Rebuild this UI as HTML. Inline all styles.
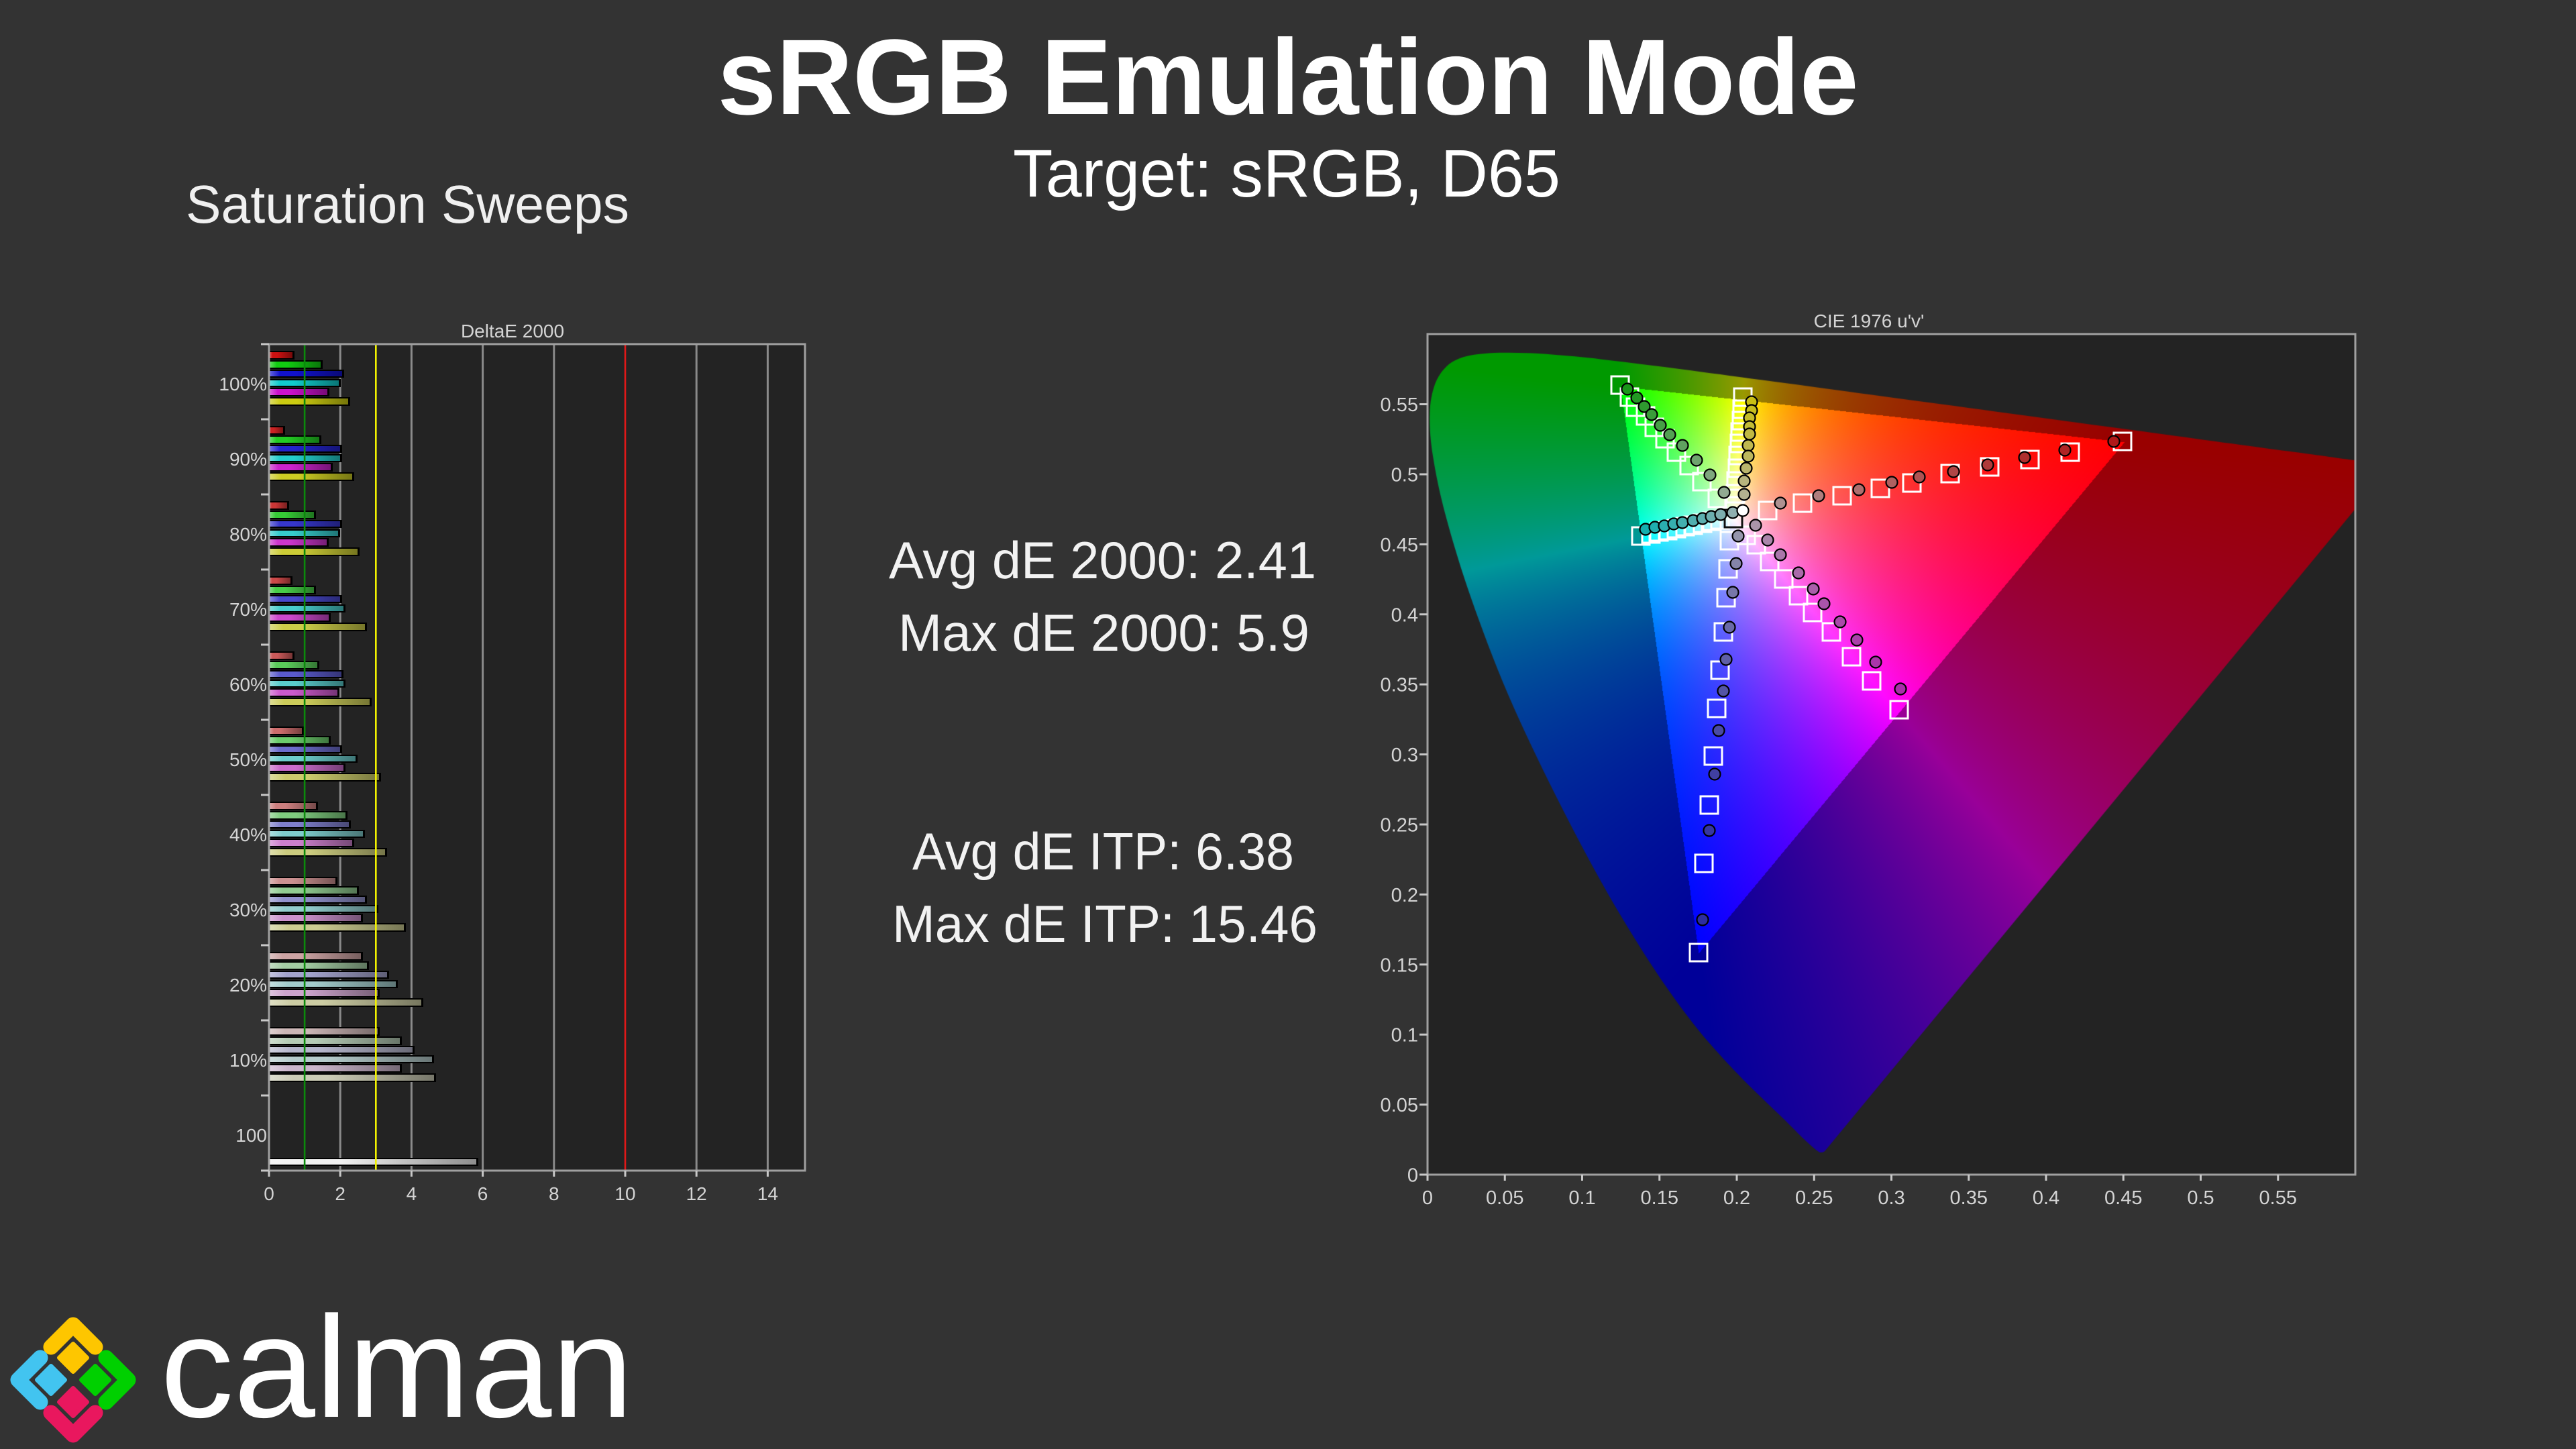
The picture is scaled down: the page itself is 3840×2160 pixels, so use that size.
<!DOCTYPE html>
<html><head><meta charset="utf-8"><title>sRGB Emulation Mode</title>
<style>
html,body{margin:0;padding:0;}
body{width:3840px;height:2160px;background:#333333;overflow:hidden;position:relative;font-family:"Liberation Sans",Arial,sans-serif;}
svg{position:absolute;left:0;top:0;}
#bg{z-index:0}
#fg{z-index:3}
#cie{position:absolute;left:2128px;top:498px;width:1383px;height:1253px;z-index:1}
.b{position:absolute;left:401px;height:12.6px;box-sizing:border-box;border-style:solid;border-color:#000;border-width:2.4px 3px 2.2px 0;z-index:2;background-image:linear-gradient(90deg,rgba(255,255,255,.38),rgba(255,255,255,0) 15%,rgba(0,0,0,0) 35%,rgba(0,0,0,.42));}
</style></head>
<body>
<svg id="bg" width="3840" height="2160" xmlns="http://www.w3.org/2000/svg">
<defs>
<clipPath id="cp"><rect x="2128" y="498" width="1383" height="1253"/></clipPath>
<linearGradient id="fb" x1="0" y1="0" x2="1" y2="1"><stop offset="0" stop-color="#009a20"/><stop offset=".5" stop-color="#0050a0"/><stop offset="1" stop-color="#800070"/></linearGradient>
<radialGradient id="ft" cx=".224" cy=".233" r=".8"><stop offset="0" stop-color="#ffffff"/><stop offset=".45" stop-color="#ff80ff"/><stop offset="1" stop-color="#a000ff"/></radialGradient>
</defs>
<rect x="401" y="513" width="799" height="1232" fill="#232323"/>
<g stroke="#8a8a8a" stroke-width="3">
<line x1="507.2" y1="513" x2="507.2" y2="1745"/>
<line x1="613.4" y1="513" x2="613.4" y2="1745"/>
<line x1="719.6" y1="513" x2="719.6" y2="1745"/>
<line x1="825.8" y1="513" x2="825.8" y2="1745"/>
<line x1="1038.2" y1="513" x2="1038.2" y2="1745"/>
<line x1="1144.4" y1="513" x2="1144.4" y2="1745"/>
</g>
<rect x="2128" y="498" width="1383" height="1253" fill="#232323"/>
<g clip-path="url(#cp)">
<polygon fill="url(#fb)" points="2720,1716 2669,1678 2626,1636 2561,1569 2460,1436 2392,1324 2319,1186 2248,1035 2193,891 2155,770 2136,680 2131,617 2139,574 2156,546 2181,532 2243,526 2311,528 2388,536 2481,547 2595,562 2733,581 2892,602 3058,625 3210,645 3327,661 3411,673 3472,681 3512,686 3565,693"/>
<polygon fill="url(#ft)" points="3167,659 2416,576 2532,1421"/>
</g>
</svg>

<canvas id="cie" width="1383" height="1253"></canvas>

<!-- bars: 100% -->
<div class="b" style="top:523.2px;width:38px;background-color:#cc1111"></div>
<div class="b" style="top:537px;width:80px;background-color:#11cc11"></div>
<div class="b" style="top:550.8px;width:112px;background-color:#1111cc"></div>
<div class="b" style="top:564.6px;width:107px;background-color:#11cccc"></div>
<div class="b" style="top:578.4px;width:90px;background-color:#cc11cc"></div>
<div class="b" style="top:592.2px;width:121px;background-color:#cccc11"></div>
<!-- 90% -->
<div class="b" style="top:635.2px;width:23.5px;background-color:#cc2323"></div>
<div class="b" style="top:649px;width:78px;background-color:#23cc23"></div>
<div class="b" style="top:662.8px;width:108.6px;background-color:#2323cc"></div>
<div class="b" style="top:676.6px;width:108.6px;background-color:#23cccc"></div>
<div class="b" style="top:690.4px;width:95px;background-color:#cc23cc"></div>
<div class="b" style="top:704.2px;width:126.8px;background-color:#cccc23"></div>
<!-- 80% -->
<div class="b" style="top:747.2px;width:30px;background-color:#cc3636"></div>
<div class="b" style="top:761px;width:69.8px;background-color:#36cc36"></div>
<div class="b" style="top:774.8px;width:108.6px;background-color:#3636cc"></div>
<div class="b" style="top:788.6px;width:105.7px;background-color:#36cccc"></div>
<div class="b" style="top:802.4px;width:89.2px;background-color:#cc36cc"></div>
<div class="b" style="top:816.2px;width:135px;background-color:#cccc36"></div>
<!-- 70% -->
<div class="b" style="top:859.2px;width:35.2px;background-color:#cc4848"></div>
<div class="b" style="top:873px;width:69.8px;background-color:#48cc48"></div>
<div class="b" style="top:886.8px;width:108.6px;background-color:#4848cc"></div>
<div class="b" style="top:900.6px;width:113.9px;background-color:#48cccc"></div>
<div class="b" style="top:914.4px;width:91.6px;background-color:#cc48cc"></div>
<div class="b" style="top:928.2px;width:146px;background-color:#cccc48"></div>
<!-- 60% -->
<div class="b" style="top:971.2px;width:37.6px;background-color:#cc5a5a"></div>
<div class="b" style="top:985px;width:75.1px;background-color:#5acc5a"></div>
<div class="b" style="top:998.8px;width:111px;background-color:#5a5acc"></div>
<div class="b" style="top:1012.6px;width:113.9px;background-color:#5acccc"></div>
<div class="b" style="top:1026.4px;width:105px;background-color:#cc5acc"></div>
<div class="b" style="top:1040.2px;width:153px;background-color:#cccc5a"></div>
<!-- 50% -->
<div class="b" style="top:1083.2px;width:51.6px;background-color:#cc6c6c"></div>
<div class="b" style="top:1097px;width:92px;background-color:#6ccc6c"></div>
<div class="b" style="top:1110.8px;width:108.6px;background-color:#6c6ccc"></div>
<div class="b" style="top:1124.6px;width:132px;background-color:#6ccccc"></div>
<div class="b" style="top:1138.4px;width:113.9px;background-color:#cc6ccc"></div>
<div class="b" style="top:1152.2px;width:167px;background-color:#cccc6c"></div>
<!-- 40% -->
<div class="b" style="top:1195.2px;width:72.8px;background-color:#cc7f7f"></div>
<div class="b" style="top:1209px;width:116.7px;background-color:#7fcc7f"></div>
<div class="b" style="top:1222.8px;width:122px;background-color:#7f7fcc"></div>
<div class="b" style="top:1236.6px;width:143px;background-color:#7fcccc"></div>
<div class="b" style="top:1250.4px;width:126.8px;background-color:#cc7fcc"></div>
<div class="b" style="top:1264.2px;width:176px;background-color:#cccc7f"></div>
<!-- 30% -->
<div class="b" style="top:1307.2px;width:102px;background-color:#cc9191"></div>
<div class="b" style="top:1321px;width:134.4px;background-color:#91cc91"></div>
<div class="b" style="top:1334.8px;width:146px;background-color:#9191cc"></div>
<div class="b" style="top:1348.6px;width:162.5px;background-color:#91cccc"></div>
<div class="b" style="top:1362.4px;width:140px;background-color:#cc91cc"></div>
<div class="b" style="top:1376.2px;width:203.6px;background-color:#cccc91"></div>
<!-- 20% -->
<div class="b" style="top:1419.2px;width:140px;background-color:#cca3a3"></div>
<div class="b" style="top:1433px;width:149px;background-color:#a3cca3"></div>
<div class="b" style="top:1446.8px;width:179px;background-color:#a3a3cc"></div>
<div class="b" style="top:1460.6px;width:192.4px;background-color:#a3cccc"></div>
<div class="b" style="top:1474.4px;width:165px;background-color:#cca3cc"></div>
<div class="b" style="top:1488.2px;width:230px;background-color:#cccca3"></div>
<!-- 10% -->
<div class="b" style="top:1531.2px;width:165px;background-color:#ccb6b6"></div>
<div class="b" style="top:1545px;width:198.3px;background-color:#b6ccb6"></div>
<div class="b" style="top:1558.8px;width:216.5px;background-color:#b6b6cc"></div>
<div class="b" style="top:1572.6px;width:246.4px;background-color:#b6cccc"></div>
<div class="b" style="top:1586.4px;width:198.3px;background-color:#ccb6cc"></div>
<div class="b" style="top:1600.2px;width:249.4px;background-color:#ccccb6"></div>
<!-- white -->
<div class="b" style="top:1725.7px;width:312px;background-color:#f2f2f2"></div>

<svg id="fg" width="3840" height="2160" xmlns="http://www.w3.org/2000/svg" font-family="Liberation Sans, Arial, sans-serif">
<!-- bar chart reference lines -->
<line x1="454.1" y1="513" x2="454.1" y2="1745" stroke="#0b8a0b" stroke-width="2.6"/>
<line x1="560.3" y1="513" x2="560.3" y2="1745" stroke="#f2f200" stroke-width="2.6"/>
<line x1="932" y1="513" x2="932" y2="1745" stroke="#e01818" stroke-width="2.6"/>
<rect x="401" y="513" width="799" height="1232" fill="none" stroke="#a0a0a0" stroke-width="3"/>
<g stroke="#c8c8c8" stroke-width="3">
<line x1="389" y1="513" x2="401" y2="513"/><line x1="389" y1="625" x2="401" y2="625"/><line x1="389" y1="737" x2="401" y2="737"/><line x1="389" y1="849" x2="401" y2="849"/><line x1="389" y1="961" x2="401" y2="961"/><line x1="389" y1="1073" x2="401" y2="1073"/><line x1="389" y1="1185" x2="401" y2="1185"/><line x1="389" y1="1297" x2="401" y2="1297"/><line x1="389" y1="1409" x2="401" y2="1409"/><line x1="389" y1="1521" x2="401" y2="1521"/><line x1="389" y1="1633" x2="401" y2="1633"/><line x1="389" y1="1745" x2="401" y2="1745"/>
<line x1="401" y1="1745" x2="401" y2="1754"/><line x1="507.2" y1="1745" x2="507.2" y2="1754"/><line x1="613.4" y1="1745" x2="613.4" y2="1754"/><line x1="719.6" y1="1745" x2="719.6" y2="1754"/><line x1="825.8" y1="1745" x2="825.8" y2="1754"/><line x1="932" y1="1745" x2="932" y2="1754"/><line x1="1038.2" y1="1745" x2="1038.2" y2="1754"/><line x1="1144.4" y1="1745" x2="1144.4" y2="1754"/>
</g>
<g fill="#d4d4d4" font-size="28" text-anchor="end">
<text x="398" y="582">100%</text><text x="398" y="694">90%</text><text x="398" y="806">80%</text><text x="398" y="918">70%</text><text x="398" y="1030">60%</text><text x="398" y="1142">50%</text><text x="398" y="1254">40%</text><text x="398" y="1366">30%</text><text x="398" y="1478">20%</text><text x="398" y="1590">10%</text><text x="398" y="1702">100</text>
</g>
<g fill="#d4d4d4" font-size="28" text-anchor="middle">
<text x="401" y="1789">0</text><text x="507.2" y="1789">2</text><text x="613.4" y="1789">4</text><text x="719.6" y="1789">6</text><text x="825.8" y="1789">8</text><text x="932" y="1789">10</text><text x="1038.2" y="1789">12</text><text x="1144.4" y="1789">14</text>
<text x="764" y="503">DeltaE 2000</text>
<text x="2786" y="488">CIE 1976 u'v'</text>
</g>

<!-- CIE frame, ticks, labels -->
<rect x="2128" y="498" width="1383" height="1253" fill="none" stroke="#a0a0a0" stroke-width="3"/>
<g stroke="#c8c8c8" stroke-width="3">
<line x1="2116" y1="1751" x2="2128" y2="1751"/><line x1="2116" y1="1646.6" x2="2128" y2="1646.6"/><line x1="2116" y1="1542.2" x2="2128" y2="1542.2"/><line x1="2116" y1="1437.8" x2="2128" y2="1437.8"/><line x1="2116" y1="1333.4" x2="2128" y2="1333.4"/><line x1="2116" y1="1229" x2="2128" y2="1229"/><line x1="2116" y1="1124.6" x2="2128" y2="1124.6"/><line x1="2116" y1="1020.2" x2="2128" y2="1020.2"/><line x1="2116" y1="915.8" x2="2128" y2="915.8"/><line x1="2116" y1="811.4" x2="2128" y2="811.4"/><line x1="2116" y1="707" x2="2128" y2="707"/><line x1="2116" y1="602.6" x2="2128" y2="602.6"/>
<line x1="2128" y1="1751" x2="2128" y2="1760"/><line x1="2243.25" y1="1751" x2="2243.25" y2="1760"/><line x1="2358.5" y1="1751" x2="2358.5" y2="1760"/><line x1="2473.75" y1="1751" x2="2473.75" y2="1760"/><line x1="2589" y1="1751" x2="2589" y2="1760"/><line x1="2704.25" y1="1751" x2="2704.25" y2="1760"/><line x1="2819.5" y1="1751" x2="2819.5" y2="1760"/><line x1="2934.75" y1="1751" x2="2934.75" y2="1760"/><line x1="3050" y1="1751" x2="3050" y2="1760"/><line x1="3165.25" y1="1751" x2="3165.25" y2="1760"/><line x1="3280.5" y1="1751" x2="3280.5" y2="1760"/><line x1="3395.75" y1="1751" x2="3395.75" y2="1760"/>
</g>
<g fill="#d4d4d4" font-size="29" text-anchor="end">
<text x="2114" y="1761.5">0</text><text x="2114" y="1657">0.05</text><text x="2114" y="1552.7">0.1</text><text x="2114" y="1448.3">0.15</text><text x="2114" y="1343.9">0.2</text><text x="2114" y="1239.5">0.25</text><text x="2114" y="1135.1">0.3</text><text x="2114" y="1030.7">0.35</text><text x="2114" y="926.3">0.4</text><text x="2114" y="821.9">0.45</text><text x="2114" y="717.5">0.5</text><text x="2114" y="613.1">0.55</text>
</g>
<g fill="#d4d4d4" font-size="29" text-anchor="middle">
<text x="2128" y="1795">0</text><text x="2243.25" y="1795">0.05</text><text x="2358.5" y="1795">0.1</text><text x="2473.75" y="1795">0.15</text><text x="2589" y="1795">0.2</text><text x="2704.25" y="1795">0.25</text><text x="2819.5" y="1795">0.3</text><text x="2934.75" y="1795">0.35</text><text x="3050" y="1795">0.4</text><text x="3165.25" y="1795">0.45</text><text x="3280.5" y="1795">0.5</text><text x="3395.75" y="1795">0.55</text>
</g>

<!-- target squares -->
<g fill="none" stroke="#ffffff" stroke-width="3">
<rect x="3151" y="645" width="26" height="26"/><rect x="3073" y="661" width="26" height="26"/><rect x="3013" y="672" width="26" height="26"/><rect x="2953" y="683" width="26" height="26"/><rect x="2894" y="693" width="26" height="26"/><rect x="2837" y="707" width="26" height="26"/><rect x="2790" y="715" width="26" height="26"/><rect x="2733" y="726" width="26" height="26"/><rect x="2674" y="737" width="26" height="26"/><rect x="2622" y="748" width="26" height="26"/>
<rect x="2402" y="561" width="26" height="26"/><rect x="2416" y="579" width="26" height="26"/><rect x="2425" y="594" width="26" height="26"/><rect x="2440" y="607" width="26" height="26"/><rect x="2453" y="624" width="26" height="26"/><rect x="2469" y="641" width="26" height="26"/><rect x="2486" y="661" width="26" height="26"/><rect x="2505" y="681" width="26" height="26"/><rect x="2524" y="705" width="26" height="26"/><rect x="2547" y="730" width="26" height="26"/>
<rect x="2519" y="1407" width="26" height="26"/><rect x="2527" y="1274" width="26" height="26"/><rect x="2535" y="1187" width="26" height="26"/><rect x="2541" y="1114" width="26" height="26"/><rect x="2546" y="1043" width="26" height="26"/><rect x="2551" y="986" width="26" height="26"/><rect x="2556" y="929" width="26" height="26"/><rect x="2560" y="878" width="26" height="26"/><rect x="2563" y="835" width="26" height="26"/><rect x="2565" y="793" width="26" height="26"/>
<rect x="2433" y="786" width="26" height="26"/><rect x="2448" y="783" width="26" height="26"/><rect x="2460" y="780" width="26" height="26"/><rect x="2473" y="778" width="26" height="26"/><rect x="2486" y="775" width="26" height="26"/><rect x="2499" y="772" width="26" height="26"/><rect x="2511" y="770" width="26" height="26"/><rect x="2525" y="767" width="26" height="26"/><rect x="2539" y="764" width="26" height="26"/><rect x="2551" y="762" width="26" height="26"/>
<rect x="2818" y="1045" width="26" height="26"/><rect x="2777" y="1002" width="26" height="26"/><rect x="2747" y="966" width="26" height="26"/><rect x="2717" y="929" width="26" height="26"/><rect x="2689" y="900" width="26" height="26"/><rect x="2668" y="875" width="26" height="26"/><rect x="2646" y="850" width="26" height="26"/><rect x="2625" y="824" width="26" height="26"/><rect x="2605" y="799" width="26" height="26"/><rect x="2590" y="785" width="26" height="26"/>
<rect x="2585" y="579" width="26" height="26"/><rect x="2584" y="597" width="26" height="26"/><rect x="2583" y="614" width="26" height="26"/><rect x="2581" y="631" width="26" height="26"/><rect x="2580" y="648" width="26" height="26"/><rect x="2578" y="666" width="26" height="26"/><rect x="2577" y="685" width="26" height="26"/><rect x="2575" y="704" width="26" height="26"/><rect x="2574" y="723" width="26" height="26"/><rect x="2572" y="741" width="26" height="26"/>
<rect x="2571" y="760" width="26" height="26" stroke="#111111"/>
</g>

<!-- measured circles -->
<g stroke="#000000" stroke-width="2.2">
<circle cx="3151" cy="658" r="8.5" fill="#af1919"/><circle cx="3078" cy="671" r="8.5" fill="#af2424"/><circle cx="3018" cy="682" r="8.5" fill="#af2f2f"/><circle cx="2963" cy="693" r="8.5" fill="#af3a3a"/><circle cx="2912" cy="703" r="8.5" fill="#af4646"/><circle cx="2861" cy="711" r="8.5" fill="#af5353"/><circle cx="2820" cy="719" r="8.5" fill="#af6060"/><circle cx="2771" cy="730" r="8.5" fill="#af6e6e"/><circle cx="2711" cy="739" r="8.5" fill="#af7e7e"/><circle cx="2654" cy="750" r="8.5" fill="#af9191"/>
<circle cx="2426" cy="580" r="8.5" fill="#199619"/><circle cx="2440" cy="593" r="8.5" fill="#249824"/><circle cx="2451" cy="606" r="8.5" fill="#2f9a2f"/><circle cx="2462" cy="618" r="8.5" fill="#3a9c3a"/><circle cx="2475" cy="634" r="8.5" fill="#469e46"/><circle cx="2489" cy="648" r="8.5" fill="#53a053"/><circle cx="2508" cy="664" r="8.5" fill="#60a260"/><circle cx="2529" cy="686" r="8.5" fill="#6ea46e"/><circle cx="2549" cy="708" r="8.5" fill="#7ea77e"/><circle cx="2570" cy="734" r="8.5" fill="#91aa91"/>
<circle cx="2538" cy="1371" r="8.5" fill="#2d2da0"/><circle cx="2548" cy="1238" r="8.5" fill="#3636a1"/><circle cx="2556" cy="1154" r="8.5" fill="#4040a2"/><circle cx="2562" cy="1089" r="8.5" fill="#4a4aa3"/><circle cx="2569" cy="1030" r="8.5" fill="#5454a5"/><circle cx="2573" cy="983" r="8.5" fill="#5f5fa6"/><circle cx="2578" cy="935" r="8.5" fill="#6a6aa7"/><circle cx="2583" cy="883" r="8.5" fill="#7777a9"/><circle cx="2588" cy="840" r="8.5" fill="#8585aa"/><circle cx="2591" cy="799" r="8.5" fill="#9595ac"/>
<circle cx="2453" cy="789" r="8.5" fill="#14afaf"/><circle cx="2467" cy="786" r="8.5" fill="#1fafaf"/><circle cx="2481" cy="784" r="8.5" fill="#2aafaf"/><circle cx="2495" cy="781" r="8.5" fill="#36afaf"/><circle cx="2508" cy="779" r="8.5" fill="#43afaf"/><circle cx="2524" cy="776" r="8.5" fill="#50afaf"/><circle cx="2538" cy="773" r="8.5" fill="#5dafaf"/><circle cx="2551" cy="770" r="8.5" fill="#6cafaf"/><circle cx="2565" cy="767" r="8.5" fill="#7dafaf"/><circle cx="2583" cy="764" r="8.5" fill="#90afaf"/>
<circle cx="2833" cy="1027" r="8.5" fill="#aa2daa"/><circle cx="2796" cy="987" r="8.5" fill="#aa36aa"/><circle cx="2768" cy="954" r="8.5" fill="#aa40aa"/><circle cx="2743" cy="927" r="8.5" fill="#aa4aaa"/><circle cx="2719" cy="900" r="8.5" fill="#aa54aa"/><circle cx="2703" cy="878" r="8.5" fill="#aa5faa"/><circle cx="2681" cy="854" r="8.5" fill="#aa6aaa"/><circle cx="2654" cy="827" r="8.5" fill="#aa77aa"/><circle cx="2635" cy="805" r="8.5" fill="#aa85aa"/><circle cx="2617" cy="783" r="8.5" fill="#aa95aa"/>
<circle cx="2611" cy="599" r="8.5" fill="#c8be14"/><circle cx="2611" cy="612" r="8.5" fill="#c6bd1f"/><circle cx="2608" cy="623" r="8.5" fill="#c4bc2a"/><circle cx="2608" cy="636" r="8.5" fill="#c2bb36"/><circle cx="2608" cy="647" r="8.5" fill="#c0b943"/><circle cx="2606" cy="664" r="8.5" fill="#beb850"/><circle cx="2606" cy="680" r="8.5" fill="#bcb75d"/><circle cx="2603" cy="698" r="8.5" fill="#bab56c"/><circle cx="2600" cy="717" r="8.5" fill="#b7b47d"/><circle cx="2600" cy="737" r="8.5" fill="#b4b290"/>
<circle cx="2598" cy="761" r="8.5" fill="#ffffff"/>
</g>

<!-- titles and stats -->
<text x="1920" y="170" text-anchor="middle" font-size="160" font-weight="700" fill="#ffffff" textLength="1701" lengthAdjust="spacingAndGlyphs">sRGB Emulation Mode</text>
<text x="1918" y="293" text-anchor="middle" font-size="100" fill="#ffffff" textLength="816" lengthAdjust="spacingAndGlyphs">Target: sRGB, D65</text>
<text x="277" y="332" font-size="80" fill="#f0f0f0" textLength="661" lengthAdjust="spacingAndGlyphs">Saturation Sweeps</text>
<g fill="#f2f2f2" font-size="78" text-anchor="middle">
<text x="1643.5" y="862" textLength="637" lengthAdjust="spacingAndGlyphs">Avg dE 2000: 2.41</text>
<text x="1645.5" y="970" textLength="613" lengthAdjust="spacingAndGlyphs">Max dE 2000: 5.9</text>
<text x="1644.5" y="1296" textLength="569" lengthAdjust="spacingAndGlyphs">Avg dE ITP: 6.38</text>
<text x="1647" y="1404" textLength="634" lengthAdjust="spacingAndGlyphs">Max dE ITP: 15.46</text>
</g>

<!-- logo -->
<g fill="none" stroke-width="23" stroke-linecap="round" stroke-linejoin="round">
<polyline points="76,2008 109,1975 142,2008" stroke="#fec600"/>
<polyline points="60,2024 27,2057 60,2090" stroke="#42c4f0"/>
<polyline points="158,2024 191,2057 158,2090" stroke="#00d000"/>
<polyline points="76,2106 109,2139 142,2106" stroke="#e9175e"/>
</g>
<g stroke-width="6" stroke-linejoin="round">
<polygon points="109,2003 130,2024 109,2045 88,2024" fill="#fec600" stroke="#fec600"/>
<polygon points="76,2036 97,2057 76,2078 55,2057" fill="#42c4f0" stroke="#42c4f0"/>
<polygon points="142,2036 163,2057 142,2078 121,2057" fill="#00d000" stroke="#00d000"/>
<polygon points="109,2069 130,2090 109,2111 88,2090" fill="#e9175e" stroke="#e9175e"/>
</g>
<text x="239" y="2112" font-size="215" fill="#ffffff" textLength="705" lengthAdjust="spacingAndGlyphs">calman</text>
</svg>

<script>
(function(){
var cv=document.getElementById('cie');if(!cv||!cv.getContext)return;
var W=1383,H=1253,SX=2305,SY=2088;
var ctx=cv.getContext('2d');
var L=[[.1741,.0050],[.1740,.0050],[.1738,.0049],[.1736,.0049],[.1733,.0048],[.1730,.0048],[.1726,.0048],[.1721,.0048],[.1714,.0051],[.1703,.0058],[.1689,.0069],[.1669,.0086],[.1644,.0109],[.1611,.0138],[.1566,.0177],[.1510,.0227],[.1440,.0297],[.1355,.0399],[.1241,.0578],[.1096,.0868],[.0913,.1327],[.0687,.2007],[.0454,.2950],[.0235,.4127],[.0082,.5384],[.0039,.6548],[.0139,.7502],[.0389,.8120],[.0743,.8338],[.1142,.8262],[.1547,.8059],[.1929,.7816],[.2296,.7543],[.2658,.7243],[.3016,.6923],[.3373,.6589],[.3731,.6245],[.4087,.5896],[.4441,.5547],[.4788,.5202],[.5125,.4866],[.5448,.4544],[.5752,.4242],[.6029,.3965],[.6270,.3725],[.6482,.3514],[.6658,.3340],[.6801,.3197],[.6915,.3083],[.7006,.2993],[.7079,.2920],[.7140,.2859],[.7190,.2809],[.7260,.2740],[.7300,.2700],[.7334,.2666],[.7347,.2653]];
var P=L.map(function(p){var d=-2*p[0]+12*p[1]+3;return [4*p[0]/d*SX,H-9*p[1]/d*SY];});
var off=document.createElement('canvas');off.width=W;off.height=H;
var o=off.getContext('2d');var im=o.createImageData(W,H);var D=im.data;
for(var j=0;j<H;j++){var v=(H-j-0.5)/SY;
 for(var i=0;i<W;i++){var u=(i+0.5)/SX;
  var den=6*u-16*v+12;var x=9*u/den,y=4*v/den;if(y<1e-4)continue;
  var X=x/y,Z=(1-x-y)/y;
  var r=3.2406*X-1.5372-0.4986*Z,g=-0.9689*X+1.8758+0.0415*Z,b=0.0557*X-0.2040+1.0570*Z;
  var ins=(r>=0&&g>=0&&b>=0);
  if(r<0)r=0;if(g<0)g=0;if(b<0)b=0;var m=Math.max(r,g,b);if(m<=0)continue;
  var k=(ins?255:153)/m;var n=(j*W+i)*4;
  D[n]=r*k;D[n+1]=g*k;D[n+2]=b*k;D[n+3]=255;}}
o.putImageData(im,0,0);
ctx.fillStyle='#232323';ctx.fillRect(0,0,W,H);
ctx.save();ctx.beginPath();ctx.moveTo(P[0][0],P[0][1]);
for(var t=0;t<P.length-1;t++){var p0=P[Math.max(t-1,0)],p1=P[t],p2=P[t+1],p3=P[Math.min(t+2,P.length-1)];
 ctx.bezierCurveTo(p1[0]+(p2[0]-p0[0])/6,p1[1]+(p2[1]-p0[1])/6,p2[0]-(p3[0]-p1[0])/6,p2[1]-(p3[1]-p1[1])/6,p2[0],p2[1]);}
ctx.closePath();ctx.clip();ctx.drawImage(off,0,0);ctx.restore();
})();
</script>
</body></html>
